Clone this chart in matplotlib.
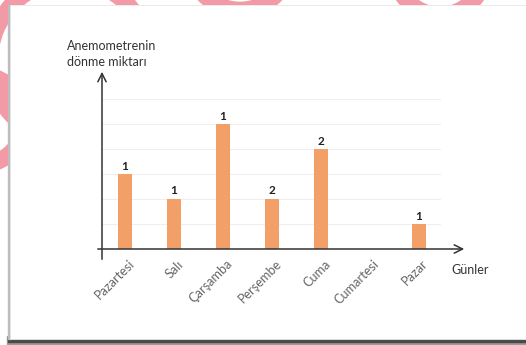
import numpy as np
import matplotlib
matplotlib.use("Agg")
import matplotlib.pyplot as plt
from matplotlib.patches import Rectangle, Arc

# Veriler
gunler = ["Pazartesi", "Salı", "Çarşamba", "Perşembe", "Cuma", "Cumartesi", "Pazar"]
donme = [3, 2, 5, 2, 4, 0, 1]
etiketler = ["1", "1", "1", "2", "2", "", "1"]

plt.rcParams["font.family"] = ["Lato", "DejaVu Sans"]

fig = plt.figure(figsize=(5.26, 3.45), dpi=100)
W, H = 526, 345


def fx(px):
    return px / W


def fy(py):
    return 1 - py / H


# Hintergrund: Karte mit Schatten
bg = fig.add_axes([0, 0, 1, 1], zorder=0)
bg.set_xlim(0, W)
bg.set_ylim(H, 0)
bg.axis("off")
bg.add_patch(Rectangle((7, 336), W, 8, color="#9a9a9a"))
bg.add_patch(Rectangle((8, 337), W, 5, color="#4a4a4a"))
bg.add_patch(Rectangle((8, 5), 2, 334, color="#bdbdbd"))
bg.add_patch(Rectangle((9.5, 5), W, 334, facecolor="white", edgecolor="#e6e6e6", lw=0.6))

# Wasserzeichen nur in den Randstreifen (oben und links)
for (x0, y0, x1, y1) in [(0, 0, W, 5), (0, 0, 8, H)]:
    wm = fig.add_axes([fx(x0), fy(y1), fx(x1 - x0), (y1 - y0) / H], zorder=1)
    wm.set_xlim(x0, x1)
    wm.set_ylim(y1, y0)
    wm.axis("off")
    for cx, cy, r in [(70, 60, 80), (240, -40, 50), (440, -30, 45), (-20, 120, 45)]:
        wm.add_patch(Arc((cx, cy), 2 * r, 2 * r, color="#f29aa6", lw=12))

# Diagramm
ax = fig.add_axes([fx(102), fy(249), fx(441 - 102), (249 - 99) / H], zorder=2)
ax.patch.set_alpha(0)
x = np.arange(len(gunler))
ax.bar(x, donme, width=0.3, color="#f3a068", zorder=2)
for xi, v, t in zip(x, donme, etiketler):
    if t:
        ax.text(xi, v + 0.1, t, ha="center", va="bottom", fontsize=8.5,
                fontweight="bold", color="#222222")

ax.set_xlim(-0.47, 6.45)
ax.set_ylim(0, 6)
ax.set_yticks(range(1, 7))
ax.grid(axis="y", color="#efefef", lw=0.8, zorder=0)
ax.tick_params(left=False, bottom=False, labelleft=False, labelbottom=False)
for s in ax.spines.values():
    s.set_visible(False)

for xi, g in zip(x, gunler):
    ax.text(xi + 0.06, -0.35, g, rotation=45, rotation_mode="anchor",
            ha="right", va="top", fontsize=9.2, color="#666666")

# Achsen mit Pfeilen
ar = fig.add_axes([0, 0, 1, 1], zorder=3)
ar.set_xlim(0, W)
ar.set_ylim(H, 0)
ar.axis("off")
ar.patch.set_alpha(0)
ar.annotate("", xy=(467, 249), xytext=(95, 249),
            arrowprops=dict(arrowstyle="->", color="#333333", lw=1.1,
                            mutation_scale=15))
ar.annotate("", xy=(102, 69), xytext=(102, 262),
            arrowprops=dict(arrowstyle="->", color="#333333", lw=1.1,
                            mutation_scale=15))

fig.text(fx(67), fy(40), "Anemometrenin\ndönme miktarı", ha="left", va="top",
         fontsize=9, color="#333333", linespacing=1.4, zorder=6)
fig.text(fx(451), fy(270), "Günler", ha="left", va="center",
         fontsize=9, color="#333333", zorder=6)

fig.savefig("out.png", dpi=100)
